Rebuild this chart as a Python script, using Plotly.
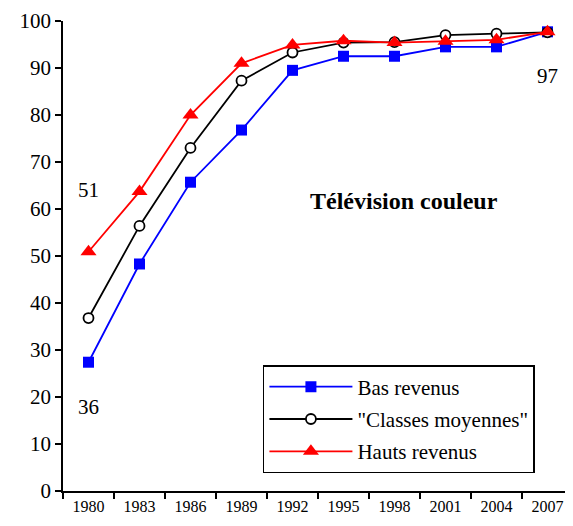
import plotly.graph_objects as go

years = ["1980", "1983", "1986", "1989", "1992", "1995", "1998", "2001", "2004", "2007"]
bas_revenus = [27.4, 48.3, 65.7, 76.8, 89.5, 92.5, 92.5, 94.5, 94.5, 97.7]
classes_moyennes = [36.8, 56.4, 73.0, 87.3, 93.3, 95.4, 95.5, 97.0, 97.3, 97.6]
hauts_revenus = [50.9, 63.7, 80.0, 91.0, 94.9, 95.8, 95.4, 95.7, 96.0, 97.7]
y_ticks = [0, 10, 20, 30, 40, 50, 60, 70, 80, 90, 100]

serif = "Liberation Serif"

fig = go.Figure()
fig.add_trace(go.Scatter(
    x=years, y=bas_revenus, name="Bas revenus", legendgroup="a",
    mode="lines+markers",
    line=dict(color="#0000ff", width=1.8),
    marker=dict(symbol="square", size=11, color="#0000ff"),
))
fig.add_trace(go.Scatter(
    x=years, y=classes_moyennes, name="\"Classes moyennes\"", legendgroup="b",
    mode="lines+markers",
    line=dict(color="#000000", width=1.8),
    marker=dict(symbol="circle", size=10, color="white",
                line=dict(color="black", width=1.8)),
))
fig.add_trace(go.Scatter(
    x=years, y=hauts_revenus, name="Hauts revenus", legendgroup="c",
    mode="lines+markers",
    line=dict(color="#ff0000", width=1.8),
    marker=dict(symbol="triangle-up", size=14, color="#ff0000"),
))

# value labels (category index positions)
fig.add_annotation(x=0, y=hauts_revenus[0], text="51", showarrow=False,
                   yshift=62, font=dict(size=21))
fig.add_annotation(x=0, y=bas_revenus[0], text="36", showarrow=False,
                   yshift=-45, font=dict(size=21))
fig.add_annotation(x=9, y=bas_revenus[-1], text="97", showarrow=False,
                   yshift=-44, font=dict(size=21))
fig.add_annotation(x=0.669, y=0.617, xref="paper", yref="paper",
                   xanchor="center", yanchor="middle",
                   text="<b>Télévision couleur</b>", showarrow=False,
                   font=dict(size=24))

# page body has an 8px margin, so the figure is shrunk by that much
fig.update_layout(
    width=565, height=518,
    margin=dict(l=55, r=0, t=13, b=35, autoexpand=False),
    plot_bgcolor="white",
    paper_bgcolor="white",
    font=dict(family=serif, color="black", size=20),
    showlegend=True,
    legend=dict(
        x=0.392, y=0.268, xanchor="left", yanchor="top",
        bordercolor="black", borderwidth=1.5,
        bgcolor="white",
        font=dict(size=21),
        tracegroupgap=2,
        itemwidth=83,
    ),
    xaxis=dict(
        type="category",
        range=[-0.5, 9.5],
        tickson="boundaries",
        ticks="outside", ticklen=6, tickwidth=1.5, tickcolor="black",
        showline=True, linecolor="black", linewidth=1.5,
        showgrid=False, zeroline=False,
        tickfont=dict(size=16),
    ),
    yaxis=dict(
        range=[0, 100],
        tickvals=y_ticks,
        ticks="outside", ticklen=6, tickwidth=1.5, tickcolor="black",
        showline=True, linecolor="black", linewidth=1.5,
        showgrid=False, zeroline=False,
        tickfont=dict(size=21),
    ),
)

fig.write_html("out.html")
